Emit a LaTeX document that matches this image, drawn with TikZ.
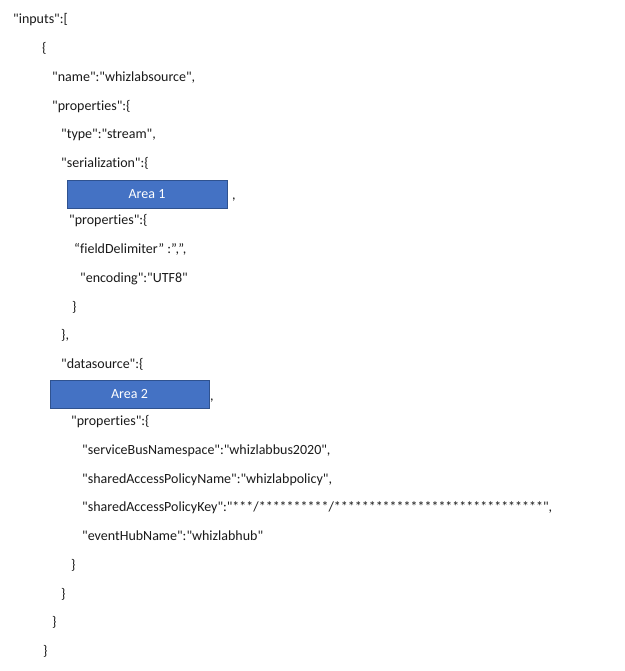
\documentclass[tikz,border=0pt]{standalone}
\usepackage{fontspec}
\newfontfamily\codefont[Ligatures=NoCommon]{Carlito}
\definecolor{boxfill}{HTML}{4472C4}
\definecolor{boxline}{HTML}{2F528F}
\definecolor{txt}{HTML}{1A1A1A}
\begin{document}
\begin{tikzpicture}[x=1pt,y=1pt,
  code/.style={anchor=base west,inner sep=0pt,font=\codefont\fontsize{14}{16}\selectfont,text=txt},
  area/.style={draw=boxline,line width=0.9pt,fill=boxfill,text=white,inner sep=0pt,font=\codefont\fontsize{14}{16}\selectfont},
]
\useasboundingbox[fill=white] (0,0) rectangle (624,-671);
\node[code] (l0) at (13,-24) {"inputs":[};
\node[code] (l1) at (42,-52.7) {\{};
\node[code] (l2) at (52,-81.4) {"name":"whizlabsource",};
\node[code] (l3) at (52,-110.1) {"properties":\{};
\node[code] (l4) at (61,-138.8) {"type":"stream",};
\node[code] (l5) at (61,-167.5) {"serialization":\{};
\draw[area] (67,-180) rectangle node (a1) {Area 1} (227,-208);
\node[code] (c1) at (232,-199) {,};
\node[code] (l7) at (69,-224.9) {"properties":\{};
\node[code] (l8) at (74,-253.6) {“fieldDelimiter” :”,”,};
\node[code] (l9) at (80,-282.3) {"encoding":"UTF8"};
\node[code] (l10) at (72,-311) {\}};
\node[code] (l11) at (61,-339.7) {\},};
\node[code] (l12) at (61,-368.4) {"datasource":\{};
\draw[area] (50,-380) rectangle node (a2) {Area 2} (209,-408);
\node[code] (c2) at (210,-400) {,};
\node[code] (l14) at (71,-425.8) {"properties":\{};
\node[code] (l15) at (82,-454.5) {"serviceBusNamespace":"whizlabbus2020",};
\node[code] (l16) at (82,-483.2) {"sharedAccessPolicyName":"whizlabpolicy",};
\node[code] (l17) at (82,-511.9) {"sharedAccessPolicyKey":"***/**********/******************************",};
\node[code] (l18) at (82,-540.6) {"eventHubName":"whizlabhub"};
\node[code] (l19) at (71,-569.3) {\}};
\node[code] (l20) at (61,-598) {\}};
\node[code] (l21) at (52,-626.7) {\}};
\node[code] (l22) at (43,-655.4) {\}};
\end{tikzpicture}
\end{document}
